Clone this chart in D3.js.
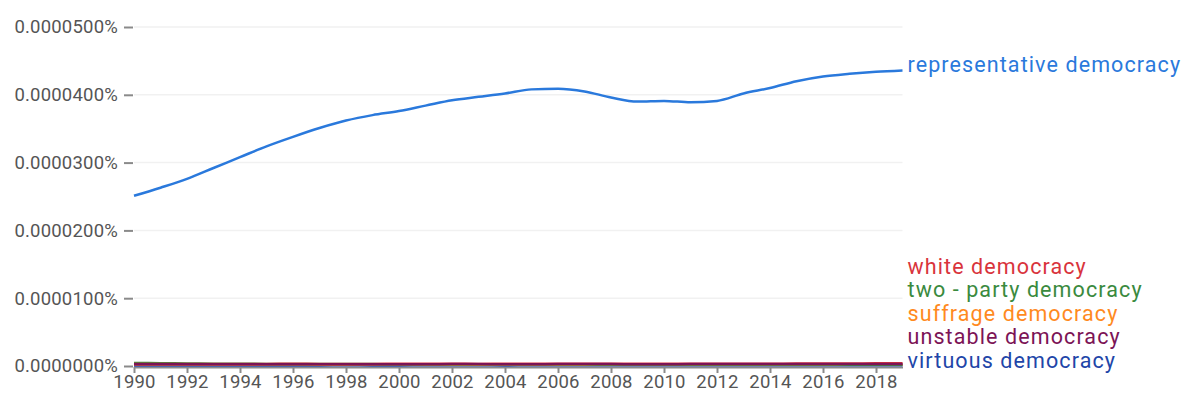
<!DOCTYPE html>
<meta charset="utf-8">
<style>
  body { margin: 0; background: #fff; }
  text { font-family: Roboto, "Noto Sans", sans-serif; }
</style>
<svg width="1197" height="406"></svg>
<script src="https://d3js.org/d3.v7.min.js"></script>
<script>

var years = d3.range(1990, 2020);

// values are in percent
var representative = [
  0.0000251, 0.0000263, 0.0000276, 0.0000292, 0.0000308, 0.0000324, 0.0000338, 0.0000351, 0.0000362, 0.0000370,
  0.0000376, 0.0000384, 0.0000392, 0.0000397, 0.0000402, 0.0000408, 0.0000409, 0.0000405, 0.0000396, 0.0000390,
  0.0000391, 0.0000389, 0.0000391, 0.0000402, 0.0000410, 0.0000420, 0.0000427, 0.0000431, 0.0000434, 0.0000436
];
var white = [
  0.00000030, 0.00000031, 0.00000030, 0.00000029, 0.00000030, 0.00000031, 0.00000032, 0.00000031, 0.00000030, 0.00000031,
  0.00000032, 0.00000033, 0.00000032, 0.00000031, 0.00000032, 0.00000033, 0.00000034, 0.00000033, 0.00000032, 0.00000033,
  0.00000034, 0.00000035, 0.00000034, 0.00000033, 0.00000034, 0.00000036, 0.00000037, 0.00000038, 0.00000039, 0.00000040
];
var twoParty = [
  0.00000045, 0.00000042, 0.00000038, 0.00000035, 0.00000033, 0.00000031, 0.00000030, 0.00000029, 0.00000028, 0.00000028,
  0.00000027, 0.00000027, 0.00000026, 0.00000026, 0.00000025, 0.00000025, 0.00000024, 0.00000024, 0.00000023, 0.00000023,
  0.00000023, 0.00000022, 0.00000022, 0.00000022, 0.00000021, 0.00000021, 0.00000021, 0.00000020, 0.00000020, 0.00000020
];
var suffrage = [
  0.00000022, 0.00000022, 0.00000021, 0.00000021, 0.00000022, 0.00000022, 0.00000021, 0.00000020, 0.00000020, 0.00000021,
  0.00000021, 0.00000020, 0.00000020, 0.00000019, 0.00000020, 0.00000020, 0.00000019, 0.00000019, 0.00000018, 0.00000019,
  0.00000019, 0.00000018, 0.00000018, 0.00000018, 0.00000019, 0.00000019, 0.00000018, 0.00000018, 0.00000017, 0.00000017
];
var unstable = [
  0.00000026, 0.00000026, 0.00000025, 0.00000025, 0.00000026, 0.00000026, 0.00000027, 0.00000027, 0.00000026, 0.00000026,
  0.00000027, 0.00000027, 0.00000028, 0.00000028, 0.00000027, 0.00000027, 0.00000028, 0.00000028, 0.00000028, 0.00000027,
  0.00000027, 0.00000028, 0.00000028, 0.00000029, 0.00000029, 0.00000028, 0.00000028, 0.00000029, 0.00000029, 0.00000029
];
var virtuous = [
  0.00000008, 0.00000008, 0.00000009, 0.00000009, 0.00000008, 0.00000008, 0.00000009, 0.00000009, 0.00000010, 0.00000009,
  0.00000009, 0.00000010, 0.00000010, 0.00000010, 0.00000009, 0.00000010, 0.00000010, 0.00000011, 0.00000010, 0.00000010,
  0.00000011, 0.00000011, 0.00000010, 0.00000011, 0.00000011, 0.00000012, 0.00000011, 0.00000012, 0.00000012, 0.00000012
];

var seriesNames = ["representative democracy", "white democracy", "two - party democracy",
                   "suffrage democracy", "unstable democracy", "virtuous democracy"];
var seriesColors = ["#2a79dc", "#d9343c", "#3a8a3e", "#ff8a1e", "#7c1456", "#2145a8"];
var seriesValues = [representative, white, twoParty, suffrage, unstable, virtuous];
// order in which the lines are painted (last on top)
var drawOrder = [5, 3, 2, 1, 4, 0];

var yTicks = [0, 0.00001, 0.00002, 0.00003, 0.00004, 0.00005];
var xTicks = d3.range(1990, 2019, 2);

var svg = d3.select("svg");

var x = d3.scaleLinear().domain([1990, 2019]).range([134, 902.5]);
var y = d3.scaleLinear().domain([0, 0.00005]).range([366, 27]);

// grid
svg.append("g")
  .selectAll("line")
  .data(yTicks.slice(1))
  .enter().append("line")
    .attr("x1", x(1990))
    .attr("x2", x(2019))
    .attr("y1", function(d) { return y(d); })
    .attr("y2", function(d) { return y(d); })
    .attr("stroke", "#f1f1f1")
    .attr("stroke-width", 1.5);

var yAxis = svg.append("g")
    .attr("transform", "translate(" + (x(1990) - 1) + ",0)")
    .call(d3.axisLeft(y).tickValues(yTicks).tickSize(9).tickPadding(6)
      .tickFormat(function(d) { return d3.format(".7f")(d) + "%"; }));
yAxis.select(".domain").remove();
yAxis.selectAll(".tick line").attr("stroke", "#8a8a8a").attr("stroke-width", 2);
yAxis.selectAll(".tick text").attr("fill", "#555")
  .style("font-size", "18.5px").style("letter-spacing", "0.2px");

var xAxis = svg.append("g")
    .attr("transform", "translate(0," + (y(0) + 1) + ")")
    .call(d3.axisBottom(x).tickValues(xTicks).tickSize(6).tickPadding(2)
      .tickFormat(d3.format("d")).tickSizeOuter(0));
xAxis.select(".domain").attr("stroke", "#8a8a8a").attr("stroke-width", 2);
xAxis.selectAll(".tick line").attr("stroke", "#8a8a8a").attr("stroke-width", 2);
xAxis.selectAll(".tick text").attr("fill", "#555")
  .style("font-size", "18.5px").style("letter-spacing", "0.2px");

var line = d3.line()
    .x(function(d, i) { return x(years[i]); })
    .y(function(d) { return y(d); })
    .curve(d3.curveMonotoneX);

svg.append("g")
  .selectAll("path")
  .data(drawOrder)
  .enter().append("path")
    .attr("d", function(i) { return line(seriesValues[i]); })
    .attr("fill", "none")
    .attr("stroke", function(i) { return seriesColors[i]; })
    .attr("stroke-width", 2.5);

// end labels: the small series are stacked upwards from the bottom line
var labels = seriesNames.map(function(name, i) {
  var v = seriesValues[i];
  return { name: name, color: seriesColors[i], y: y(v[v.length - 1]) };
});
var stacked = labels.slice(1);
var base = d3.max(stacked, function(d) { return d.y; }) - 5;
stacked.forEach(function(d, i) { d.y = base - (stacked.length - 1 - i) * 23.5; });
labels[0].y = labels[0].y - 6;

svg.append("g")
  .selectAll("text")
  .data(labels)
  .enter().append("text")
    .attr("x", x(2019) + 5)
    .attr("y", function(d) { return d.y; })
    .attr("dy", "0.35em")
    .attr("fill", function(d) { return d.color; })
    .style("font-size", "21.5px")
    .style("letter-spacing", "1.1px")
    .text(function(d) { return d.name; });

</script>
